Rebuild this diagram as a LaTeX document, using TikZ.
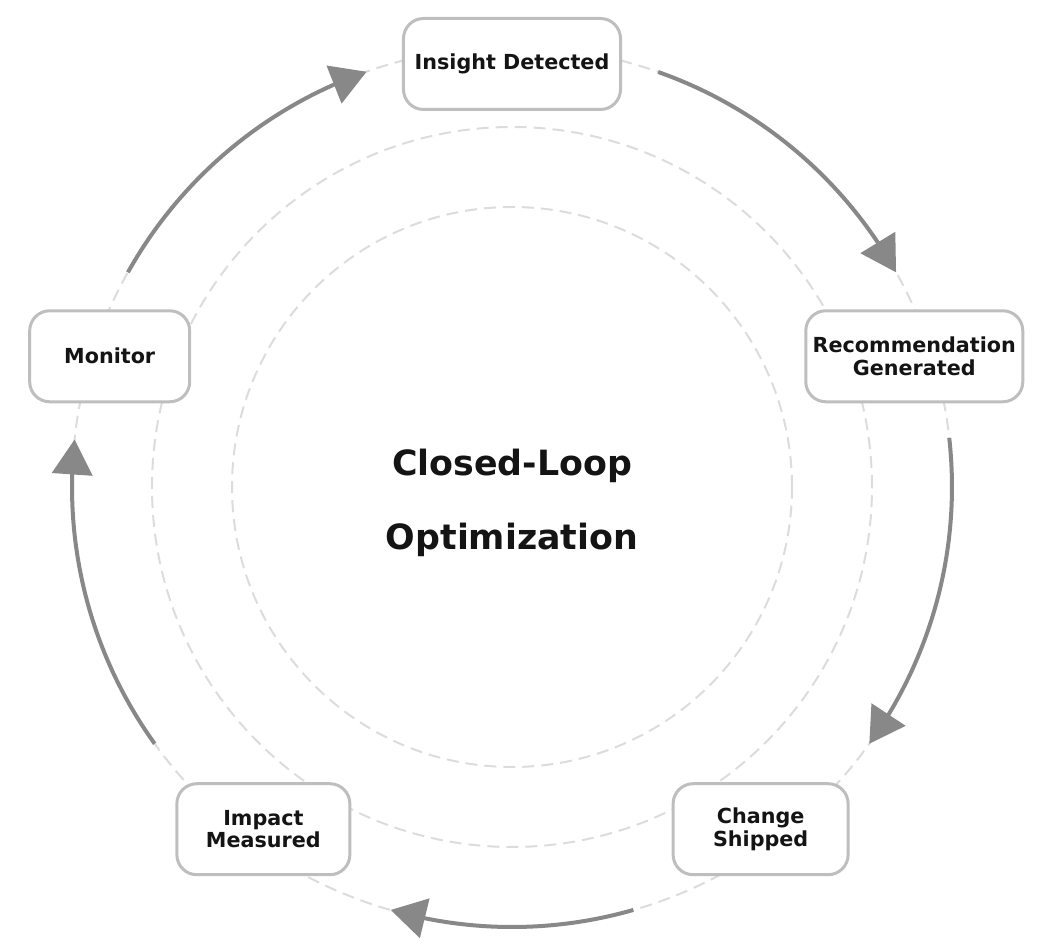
\documentclass[tikz,border=0pt]{standalone}
\usepackage{fontspec}
\setmainfont{DejaVu Sans}
\usetikzlibrary{arrows.meta,bending}
\definecolor{boxgray}{RGB}{190,190,190}
\definecolor{arrowgray}{RGB}{136,136,136}
\definecolor{ringgray}{RGB}{220,220,220}
\definecolor{textblack}{RGB}{20,20,20}
\begin{document}
\begin{tikzpicture}[x=1pt,y=1pt,
  ring/.style={draw=ringgray, line width=2pt, dash pattern=on 12pt off 7pt},
  stagebox/.style={draw=boxgray, line width=3pt, rounded corners=20pt, fill=white,
    minimum height=91pt, align=center, text=textblack, inner sep=0pt,
    font=\fontsize{20.7pt}{22.5pt}\selectfont\bfseries},
  flow/.style={draw=arrowgray, line width=4pt, -{Triangle[length=35pt,width=40pt,flex]}},
  title/.style={text=textblack, anchor=base, font=\fontsize{34.8pt}{40pt}\selectfont\bfseries}]
\useasboundingbox (-512,-462) rectangle (543,487);
\coordinate (c) at (0,0);
% rings
\draw[ring] (c) circle[radius=280pt];
\draw[ring] (c) circle[radius=360pt];
\draw[ring] (c) circle[radius=440pt];
% title
\node[title] (t1) at (0,11) {Closed-Loop};
\node[title] (t2) at (0,-63) {Optimization};
% flow arrows
\draw[flow] ([shift={(70.6:440)}]c) arc[start angle=70.6, end angle=29.2, radius=440pt];
\draw[flow] ([shift={(6.4:440)}]c) arc[start angle=6.4, end angle=-35.7, radius=440pt];
\draw[flow] ([shift={(-74:440)}]c) arc[start angle=-74, end angle=-106, radius=440pt];
\draw[flow] ([shift={(-144.3:440)}]c) arc[start angle=-144.3, end angle=-186.2, radius=440pt];
\draw[flow] ([shift={(150.8:440)}]c) arc[start angle=150.8, end angle=109.3, radius=440pt];
% stages
\node[stagebox, minimum width=217pt] (insight) at (90:423) {Insight Detected};
\node[stagebox, minimum width=217pt] (rec) at (18:423) {Recommendation\\Generated};
\node[stagebox, minimum width=175pt] (change) at (-54:423) {Change\\Shipped};
\node[stagebox, minimum width=173pt] (impact) at (-126:423) {Impact\\Measured};
\node[stagebox, minimum width=160pt] (monitor) at (162:423) {Monitor};
\end{tikzpicture}
\end{document}
